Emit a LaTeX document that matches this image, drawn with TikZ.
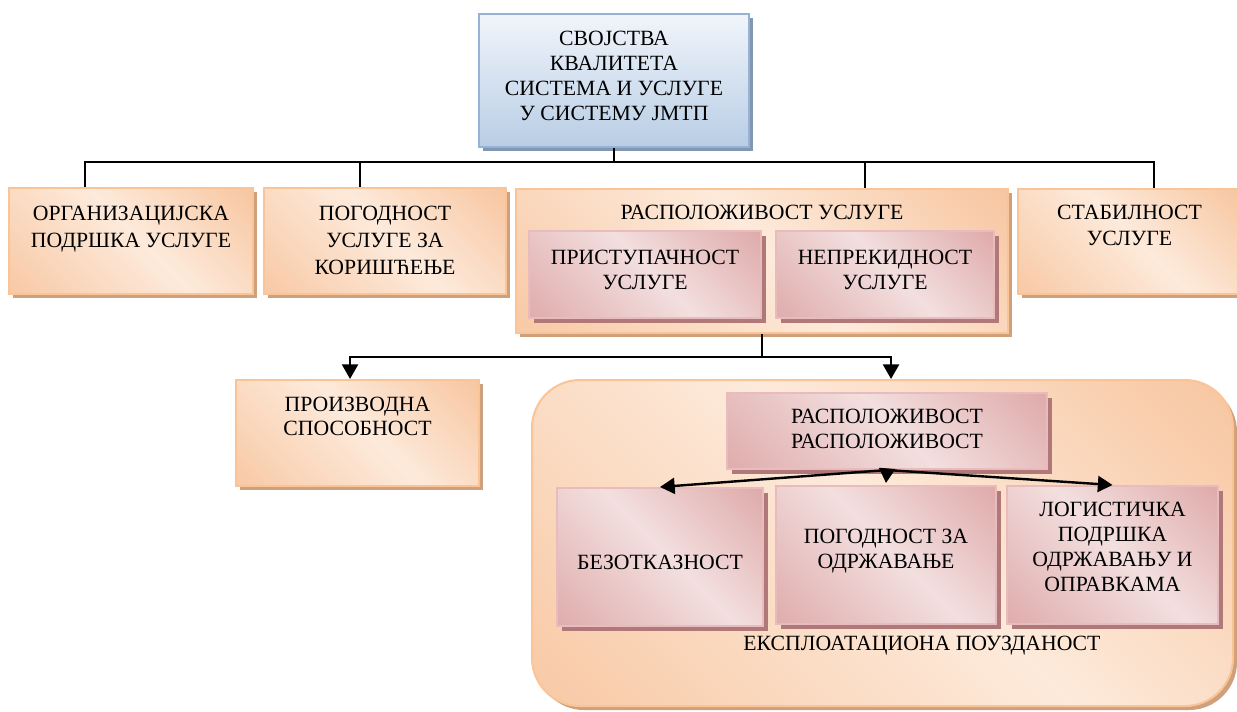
\documentclass[tikz,border=0pt]{standalone}
\usepackage{fontspec}
\setmainfont{Liberation Serif}
\usetikzlibrary{shadows,arrows.meta}
\definecolor{orA}{RGB}{246,188,144}
\definecolor{orL}{RGB}{253,234,219}
\definecolor{orB}{RGB}{245,182,134}
\definecolor{orBorder}{RGB}{250,196,150}
\definecolor{orShadow}{RGB}{206,160,124}
\definecolor{pkA}{RGB}{216,152,152}
\definecolor{pkL}{RGB}{243,223,223}
\definecolor{pkB}{RGB}{214,146,146}
\definecolor{pkBorder}{RGB}{232,188,188}
\definecolor{pkShadow}{RGB}{176,120,120}
\definecolor{blL}{RGB}{240,245,251}
\definecolor{blD}{RGB}{185,205,229}
\definecolor{blBorder}{RGB}{149,179,215}
\definecolor{blShadow}{RGB}{132,151,176}
\pgfdeclarehorizontalshading{orsh}{100bp}{color(0bp)=(orA); color(52bp)=(orL); color(100bp)=(orB)}
\pgfdeclarehorizontalshading{pksh}{100bp}{color(0bp)=(pkA); color(52bp)=(pkL); color(100bp)=(pkB)}
\tikzset{
  sz/.style 2 args={minimum width=#1*0.75pt, minimum height=#2*0.75pt, anchor=north west, inner sep=0pt},
  obox/.style={draw=orBorder, line width=1.5pt, shade, shading=orsh, shading angle=45,
    drop shadow={shadow xshift=3pt, shadow yshift=-3pt, fill=orShadow, opacity=1}},
  pbox/.style={draw=pkBorder, line width=1.5pt, shade, shading=pksh, shading angle=45,
    drop shadow={shadow xshift=3.5pt, shadow yshift=-3.5pt, fill=pkShadow, opacity=1}},
  bbox/.style={draw=blBorder, line width=1.5pt, top color=blL, bottom color=blD,
    drop shadow={shadow xshift=3pt, shadow yshift=-3pt, fill=blShadow, opacity=1}},
  lab/.style={anchor=north, align=center, inner sep=0pt},
  ln/.style={draw=black, line width=1.4pt},
  arr/.style={draw=black, line width=1.8pt, -{Triangle[length=11pt,width=12pt]}},
  every node/.style={font=\fontsize{16.3}{18.75}\selectfont}
}
\begin{document}
\begin{tikzpicture}[x=0.75pt,y=-0.75pt]
\useasboundingbox (0,0) rectangle (1237,711);

% top box
\node[bbox, sz={270}{133}, label={[lab, yshift=-13.6pt, font=\fontsize{16.3}{18.75}\selectfont]north:{СВОЈСТВА\\КВАЛИТЕТА\\СИСТЕМА И УСЛУГЕ\\У СИСТЕМУ ЈМТП}}] (t) at (478,13) {};

% second row
\node[obox, sz={244}{106}, label={[lab, yshift=-14.3pt, font=\fontsize{16.3}{20.25}\selectfont]north:{ОРГАНИЗАЦИЈСКА\\ПОДРШКА УСЛУГЕ}}] (o) at (8,187) {};
\node[obox, sz={242}{106}, label={[lab, yshift=-14.3pt, font=\fontsize{16.3}{20.25}\selectfont]north:{ПОГОДНОСТ\\УСЛУГЕ ЗА\\КОРИШЋЕЊЕ}}] (p) at (263,187) {};
\node[obox, sz={492}{144}, label={[lab, yshift=-12.8pt]north:{РАСПОЛОЖИВОСТ УСЛУГЕ}}] (r) at (515,188) {};
\node[pbox, sz={232}{87}, label={[lab, yshift=-15.1pt]north:{ПРИСТУПАЧНОСТ\\УСЛУГЕ}}] (i1) at (528,230) {};
\node[pbox, sz={218}{87}, label={[lab, yshift=-15.1pt]north:{НЕПРЕКИДНОСТ\\УСЛУГЕ}}] (i2) at (775,230) {};
\node[obox, sz={223}{105}, label={[lab, yshift=-12.8pt, font=\fontsize{16.3}{19.5}\selectfont]north:{СТАБИЛНОСТ\\УСЛУГЕ}}] (s) at (1017,188) {};

% third row
\node[obox, sz={243}{106}, label={[lab, yshift=-13.6pt, font=\fontsize{16.3}{18}\selectfont]north:{ПРОИЗВОДНА\\СПОСОБНОСТ}}] (pr) at (235,379) {};
\node[obox, sz={701}{326}, rounded corners=36pt] (b) at (531,379) {};
\node[pbox, sz={320}{76}, label={[lab, yshift=-12.8pt]north:{РАСПОЛОЖИВОСТ\\РАСПОЛОЖИВОСТ}}] (rr) at (726,392) {};
\node[pbox, sz={206}{138}, label={[lab, yshift=-51.1pt]north:{БЕЗОТКАЗНОСТ}}] (bez) at (556,487) {};
\node[pbox, sz={220}{138}, label={[lab, yshift=-33.1pt]north:{ПОГОДНОСТ ЗА\\ОДРЖАВАЊЕ}}] (pog) at (775,485) {};
\node[pbox, sz={211}{138}, label={[lab, yshift=-12.8pt]north:{ЛОГИСТИЧКА\\ПОДРШКА\\ОДРЖАВАЊУ И\\ОПРАВКАМА}}] (log) at (1006,485) {};
\node (ep) at (922,646) {ЕКСПЛОАТАЦИОНА ПОУЗДАНОСТ};

% connectors top
\draw[ln] (t.south) -- ++(0,14) -| ([xshift=-34.5pt]o.north);
\draw[ln] (t.south) -- ++(0,14) -| ([xshift=-18.75pt]p.north);
\draw[ln] (t.south) -- ++(0,14) -| ([xshift=77.25pt]r.north);
\draw[ln] (t.south) -- ++(0,14) -| ([xshift=18.4pt]s.north);

% arrows from r
\draw[arr] (r.south) -- ++(0,23) -| ([xshift=-5.6pt]pr.north);
\draw[arr] (r.south) -- ++(0,23) -| ([xshift=6.4pt]b.north);

% arrows inside
\draw[arr] (rr.south) -- (bez.north);
\draw[arr] (rr.south) -- ([yshift=1.5pt]pog.north);
\draw[arr] (rr.south) -- (log.north);
\end{tikzpicture}
\end{document}
